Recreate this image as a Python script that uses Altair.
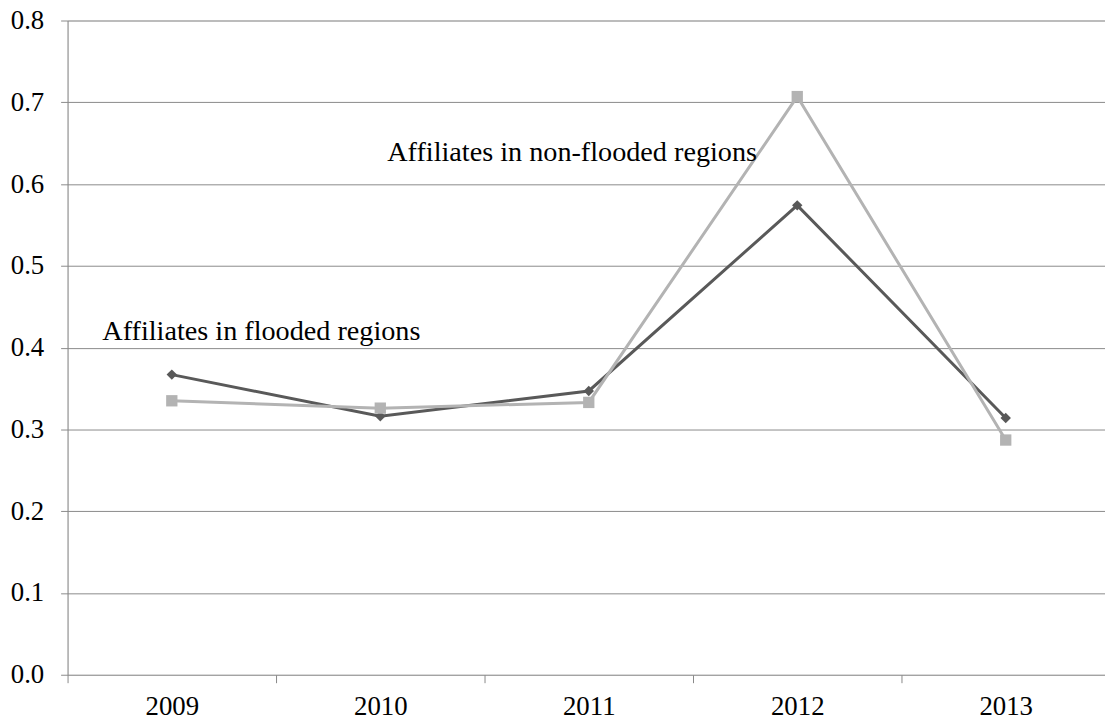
import altair as alt
import pandas as pd

years = ["2009", "2010", "2011", "2012", "2013"]
flooded = [0.367, 0.316, 0.347, 0.574, 0.314]
non_flooded = [0.335, 0.326, 0.333, 0.707, 0.287]
series_names = ["Affiliates in flooded regions", "Affiliates in non-flooded regions"]
y_ticks = [0.0, 0.1, 0.2, 0.3, 0.4, 0.5, 0.6, 0.7, 0.8]
label_values = [0.409, 0.6286]
label_px = [35, 322]

rows = []
for y, v in zip(years, flooded):
    rows.append({"year": y, "value": v, "series": series_names[0]})
for y, v in zip(years, non_flooded):
    rows.append({"year": y, "value": v, "series": series_names[1]})
df = pd.DataFrame(rows)

lab = pd.DataFrame({"text": series_names, "value": label_values, "px": label_px})

FONT = "Liberation Serif"
DARK = "#595959"
LIGHT = "#b3b3b3"
FS = 27

x_enc = alt.X(
    "year:N",
    sort=years,
    scale=alt.Scale(type="band", paddingInner=0, paddingOuter=0, range=[0, 1050]),
    axis=alt.Axis(
        title=None, labelAngle=0, tickBand="extent", domain=False,
        tickColor="#888888", tickSize=8, labelFontSize=FS, labelFont=FONT,
        labelColor="#000000", labelPadding=11, grid=False,
    ),
)
y_enc = alt.Y(
    "value:Q",
    scale=alt.Scale(domain=[0, 0.8], nice=False),
    axis=alt.Axis(
        title=None, values=y_ticks, format=".1f", grid=True, gridColor="#8a8a8a",
        gridWidth=1, domainColor="#8a8a8a", tickColor="#8a8a8a", tickSize=7,
        labelFontSize=FS, labelFont=FONT, labelColor="#000000", labelPadding=17,
    ),
)
color_enc = alt.Color(
    "series:N",
    scale=alt.Scale(domain=series_names, range=[DARK, LIGHT]),
    legend=None,
)
shape_enc = alt.Shape(
    "series:N",
    scale=alt.Scale(domain=series_names, range=["diamond", "square"]),
    legend=None,
)
size_enc = alt.Size(
    "series:N",
    scale=alt.Scale(domain=series_names, range=[110, 130]),
    legend=None,
)

lines = alt.Chart(df).mark_line(strokeWidth=3).encode(
    x=x_enc, y=y_enc, color=color_enc, detail="series:N"
)
points = alt.Chart(df).mark_point(filled=True, opacity=1).encode(
    x=x_enc, y=y_enc, color=color_enc, shape=shape_enc, size=size_enc
)
texts = alt.Chart(lab).mark_text(
    align="left", baseline="alphabetic", font=FONT, fontSize=28.4, color="#000000"
).encode(
    x=alt.X("px:Q", scale=None),
    y=alt.Y("value:Q", scale=alt.Scale(domain=[0, 0.8], nice=False)),
    text="text:N",
)

chart = (
    alt.layer(lines, points, texts)
    .properties(
        width=1045,
        height=659,
        padding={"left": 60, "top": 10, "right": 0, "bottom": 46},
        autosize=alt.AutoSizeParams(type="none"),
    )
    .configure_view(stroke=None)
    .configure(background="#ffffff", font=FONT)
)

chart.save("out.html", embed_options={"renderer": "svg", "actions": False})
